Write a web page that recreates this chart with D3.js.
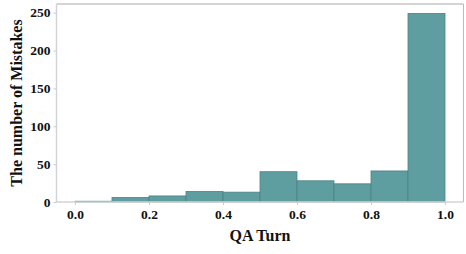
<!DOCTYPE html>
<html><head><meta charset="utf-8">
<script src="https://cdn.jsdelivr.net/npm/d3@7"></script>
<style>body{margin:0;background:#fff}svg{display:block}</style>
</head><body>
<script>
const binStarts = [0.0,0.1,0.2,0.3,0.4,0.5,0.6,0.7,0.8,0.9];
const binWidth = 0.1;
const counts = [1,6,8,14,13,40,28,24,41,249];
const xTicks = [0.0,0.2,0.4,0.6,0.8,1.0];
const yTicks = [0,50,100,150,200,250];

const W=466,H=254;
const m={l:56.5,t:4,r:2.5,b:52};
const svg=d3.select("body").append("svg").attr("width",W).attr("height",H);
const x=d3.scaleLinear().domain([-0.05,1.05]).range([m.l,W-m.r]);
const y=d3.scaleLinear().domain([0,261.45]).range([H-m.b,m.t]);
const font="'Liberation Serif','Times New Roman',serif";

svg.append("g").selectAll("rect").data(binStarts).join("rect")
  .attr("x",d=>x(d)).attr("width",d=>x(d+binWidth)-x(d))
  .attr("y",(d,i)=>y(counts[i])).attr("height",(d,i)=>y(0)-y(counts[i]))
  .attr("fill","#5f9ea0").attr("stroke","#4d8284").attr("stroke-width",0.8);

// spines
svg.append("line").attr("x1",m.l).attr("x2",W-m.r).attr("y1",m.t).attr("y2",m.t).attr("stroke","#aaaaaa").attr("stroke-width",1);
svg.append("line").attr("x1",W-m.r).attr("x2",W-m.r).attr("y1",m.t).attr("y2",y(0)).attr("stroke","#bbbbbb").attr("stroke-width",1);
svg.append("line").attr("x1",m.l).attr("x2",m.l).attr("y1",m.t).attr("y2",y(0)).attr("stroke","#d4d4d4").attr("stroke-width",1.5);
svg.append("line").attr("x1",m.l).attr("x2",W-m.r).attr("y1",y(0)).attr("y2",y(0)).attr("stroke","#d4d4d4").attr("stroke-width",1.5);

const xa=svg.append("g").attr("transform",`translate(0,${y(0)})`)
  .call(d3.axisBottom(x).tickValues(xTicks).tickFormat(d3.format(".1f")).tickSize(3).tickPadding(4));
const ya=svg.append("g").attr("transform",`translate(${m.l},0)`)
  .call(d3.axisLeft(y).tickValues(yTicks).tickSize(3).tickPadding(3));
[xa,ya].forEach(a=>{
  a.select(".domain").remove();
  a.selectAll("line").attr("stroke","#cccccc");
  a.selectAll("text").attr("font-family",font).attr("font-weight","bold").attr("font-size",13.5).attr("fill","#111");
});

svg.append("text").attr("x",x(0.5)).attr("y",241).attr("text-anchor","middle")
  .attr("font-family",font).attr("font-weight","bold").attr("font-size",16).attr("fill","#111").text("QA Turn");
svg.append("text").attr("transform",`translate(22,${(m.t+y(0))/2}) rotate(-90)`).attr("text-anchor","middle")
  .attr("font-family",font).attr("font-weight","bold").attr("font-size",16).attr("fill","#111").text("The number of Mistakes");
</script>
</body></html>
